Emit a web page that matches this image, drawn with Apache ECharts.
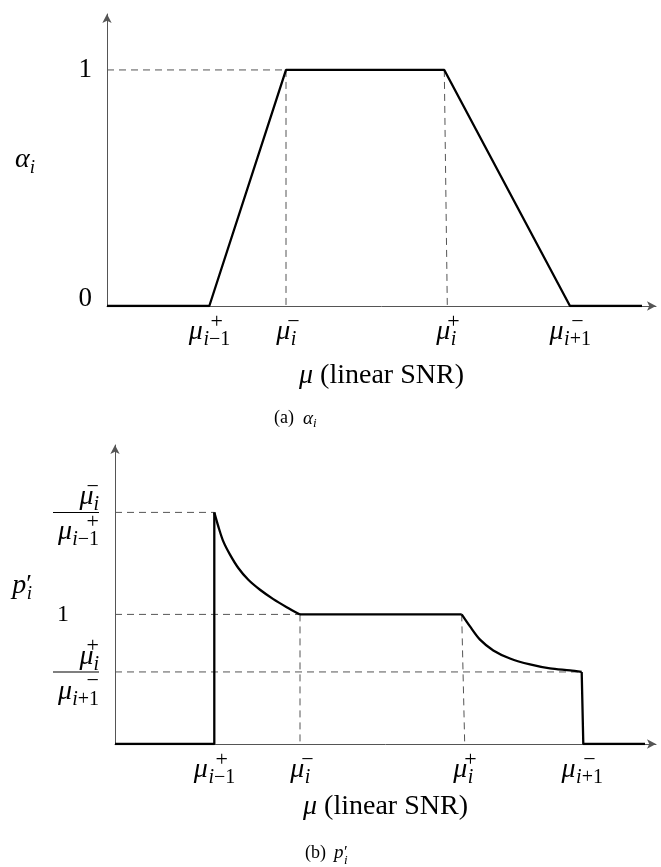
<!DOCTYPE html>
<html><head><meta charset="utf-8">
<script src="https://cdn.jsdelivr.net/npm/echarts@6/dist/echarts.min.js"></script>
<style>html,body{margin:0;padding:0;background:#fff}#c{width:661px;height:867px}</style>
</head><body><div id="c"></div>
<script>
// ---------- Panel (a): alpha_i vs mu ----------
const aMu    = [0, 1.023, 1.79, 3.373, 4.63, 5.35];
const aAlpha = [0, 0, 1, 1, 0, 0];
const aTickMu   = [1.023, 1.79, 3.39, 4.63];
const aTickSup  = ['+', '−', '+', '−'];
const aTickSubI = ['i', 'i', 'i', 'i'];
const aTickSubN = ['−1', '', '', '+1'];
const aYTicks  = [0, 1];
const aYLabels = ['0', '1'];
const aGuideH  = [[0, 1], [1.79, 1]];
const aGuideV1 = [[1.79, 1], [1.79, 0]];
const aGuideV2 = [[3.373, 1], [3.403, 0]];

// ---------- Panel (b): p'_i vs mu ----------
const bStepMu = [0, 0.993, 0.993];
const bStepP  = [0, 0, 1.787];
const bCurve1Mu = [0.993, 1.033, 1.083, 1.15, 1.233, 1.333, 1.45, 1.583, 1.717, 1.85];
const bCurve1P  = [1.787, 1.679, 1.563, 1.461, 1.358, 1.267, 1.190, 1.118, 1.056, 1.0];
const bFlatMu = [1.85, 3.467];
const bFlatP  = [1.0, 1.0];
const bCurve2Mu = [3.467, 3.55, 3.65, 3.783, 3.95, 4.15, 4.35, 4.55, 4.667];
const bCurve2P  = [1.0, 0.907, 0.805, 0.722, 0.660, 0.614, 0.583, 0.568, 0.556];
const bTailMu = [4.667, 4.683, 5.30];
const bTailP  = [0.556, 0, 0];
const bTickMu   = [0.993, 1.85, 3.48, 4.67];
const bTickSup  = ['+', '−', '+', '−'];
const bTickSubI = ['i', 'i', 'i', 'i'];
const bTickSubN = ['−1', '', '', '+1'];
const bYTicks = [0.556, 1, 1.787];
const bGuideH1 = [[0, 1.787], [0.993, 1.787]];
const bGuideH2 = [[0, 1], [1.85, 1]];
const bGuideH3 = [[0, 0.556], [4.667, 0.556]];
const bGuideV1 = [[1.85, 1], [1.85, 0]];
const bGuideV2 = [[3.467, 1], [3.497, 0]];

const F = "'Liberation Serif','DejaVu Serif',serif";
const MUW = 15;
const base = {fontFamily: F, color: '#000', fontWeight: 'normal'};
const R = {
  mw:  {width: MUW, fontSize: 8, lineHeight: 4},
  mwp: {width: MUW + 2, fontSize: 8, lineHeight: 4},
  pd:  {width: 2, fontSize: 8, lineHeight: 16},
  up:  Object.assign({}, base, {fontSize: 22, lineHeight: 4}),
  mu:  Object.assign({}, base, {fontStyle: 'italic', fontSize: 28, width: MUW, lineHeight: 16}),
  si:  Object.assign({}, base, {fontStyle: 'italic', fontSize: 20, lineHeight: 16, padding: [16, 0, 0, 0]}),
  sn:  Object.assign({}, base, {fontSize: 20, lineHeight: 16, padding: [16, 0, 0, 0]}),
  bar: {width: 46, fontSize: 1, lineHeight: 15, backgroundColor: '#000'},
  big: Object.assign({}, base, {fontSize: 27}),
  bigz:Object.assign({}, base, {fontSize: 27, padding: [0, 0, 14, 0]}),
  one: Object.assign({}, base, {fontSize: 24, padding: [0, 30, 0, 0]})
};

function muLab(sup, si, sn) {
  return '{mw|}{up|' + sup + '}\n{mu|μ}{si|' + si + '}' + (sn ? '{sn|' + sn + '}' : '');
}
function fracLab(nSup, nSi, dSup, dSi, dSn) {
  return '{mwp|}{up|' + nSup + '}\n{pd|}{mu|μ}{si|' + nSi + '}\n{bar| }\n' +
         '{mw|}{up|' + dSup + '}\n{mu|μ}{si|' + dSi + '}{sn|' + dSn + '}';
}
function idx(arr, v) {
  let b = 0;
  for (let i = 0; i < arr.length; i++) if (Math.abs(arr[i] - v) < Math.abs(arr[b] - v)) b = i;
  return b;
}
const bYLabels = [fracLab('+', 'i', '−', 'i', '+1'), '{one|1}', fracLab('−', 'i', '+', 'i', '−1')];

const axisLineStyle = {show: true, symbol: ['none', 'arrow'], symbolSize: [7, 9], lineStyle: {color: '#555', width: 1}};
const solid = {color: '#000', width: 2.3};
const dashed = {color: '#555', width: 1, type: [7, 5]};
const zip = (xs, ys) => xs.map((x, i) => [x, ys[i]]);

function line(data, gi, style, z, smooth) {
  return {type: 'line', xAxisIndex: gi, yAxisIndex: gi, data: data, symbol: 'none', lineStyle: style,
          z: z, silent: true, animation: false, smooth: smooth || false};
}
const axisName = {rich: {m: Object.assign({}, base, {fontStyle: 'italic', fontSize: 28}),
                         t: Object.assign({}, base, {fontSize: 28})}};

const chart = echarts.init(document.getElementById('c'), null, {renderer: 'canvas'});
chart.setOption({
  backgroundColor: '#fff',
  animation: false,
  title: [
    {text: '{c|(a)  }{ca|α}{cs|i}', left: 274, top: 407, padding: 0,
     textStyle: {fontWeight: 'normal', rich: {
       c: Object.assign({}, base, {fontSize: 18}),
       ca: Object.assign({}, base, {fontStyle: 'italic', fontSize: 19}),
       cs: Object.assign({}, base, {fontStyle: 'italic', fontSize: 13, padding: [10, 0, 0, 0]})}}},
    {text: '{cb|(b)  }{cp|p}{cpr|′}\n{cw|}{cs|i}', left: 305, top: 847, padding: 0,
     textStyle: {fontWeight: 'normal', rich: {
       cb: Object.assign({}, base, {fontSize: 18, width: 29, lineHeight: 12}),
       cp: Object.assign({}, base, {fontStyle: 'italic', fontSize: 19, width: 10, lineHeight: 12}),
       cpr: Object.assign({}, base, {fontSize: 17, lineHeight: 12}),
       cw: {width: 39, fontSize: 6, lineHeight: 4},
       cs: Object.assign({}, base, {fontStyle: 'italic', fontSize: 13, lineHeight: 4})}}}
  ],
  grid: [
    {left: 107, top: 14, width: 549, height: 292},
    {left: 115, top: 445, width: 541, height: 299}
  ],
  xAxis: [
    {type: 'value', gridIndex: 0, min: 0, max: 5.49,
     axisLine: axisLineStyle, axisTick: {show: false}, splitLine: {show: false},
     axisLabel: {customValues: aTickMu, margin: 14, rich: R,
       formatter: v => { const i = idx(aTickMu, v); return muLab(aTickSup[i], aTickSubI[i], aTickSubN[i]); }},
     name: '{m|μ}{t| (linear SNR)}', nameLocation: 'middle', nameGap: 56, nameTextStyle: axisName},
    {type: 'value', gridIndex: 1, min: 0, max: 5.41,
     axisLine: axisLineStyle, axisTick: {show: false}, splitLine: {show: false},
     axisLabel: {customValues: bTickMu, margin: 14, rich: R,
       formatter: v => { const i = idx(bTickMu, v); return muLab(bTickSup[i], bTickSubI[i], bTickSubN[i]); }},
     name: '{m|μ}{t| (linear SNR)}', nameLocation: 'middle', nameGap: 49, nameTextStyle: axisName}
  ],
  yAxis: [
    {type: 'value', gridIndex: 0, min: 0, max: 1.237,
     axisLine: axisLineStyle, axisTick: {show: false}, splitLine: {show: false},
     axisLabel: {customValues: aYTicks, margin: 15, rich: R,
       formatter: v => { const i = idx(aYTicks, v); return (i === 0 ? '{bigz|' : '{big|') + aYLabels[i] + '}'; }},
     name: '{a|α}{s|i}', nameLocation: 'middle', nameRotate: 0, nameGap: 72,
     nameTextStyle: {rich: {a: Object.assign({}, base, {fontStyle: 'italic', fontSize: 28}),
                            s: Object.assign({}, base, {fontStyle: 'italic', fontSize: 19, padding: [16, 0, 0, 0]})}}},
    {type: 'value', gridIndex: 1, min: 0, max: 2.307,
     axisLine: axisLineStyle, axisTick: {show: false}, splitLine: {show: false},
     axisLabel: {customValues: bYTicks, margin: 16, rich: R,
       formatter: v => bYLabels[idx(bYTicks, v)]},
     name: '{p|p}{pr|′}\n{pw|}{s|i}', nameLocation: 'middle', nameRotate: 0, nameGap: 83,
     nameTextStyle: {padding: [0, 0, 14, 0], rich: {
       p: Object.assign({}, base, {fontStyle: 'italic', fontSize: 28, width: 14, lineHeight: 12}),
       pr: Object.assign({}, base, {fontSize: 26, lineHeight: 12}),
       pw: {width: 14, fontSize: 6, lineHeight: 4},
       s: Object.assign({}, base, {fontStyle: 'italic', fontSize: 19, lineHeight: 4})}}}
  ],
  series: [
    line(aGuideH, 0, dashed, 2), line(aGuideV1, 0, dashed, 2), line(aGuideV2, 0, dashed, 2),
    line(zip(aMu, aAlpha), 0, solid, 3),
    line(bGuideH1, 1, dashed, 2), line(bGuideH2, 1, dashed, 2), line(bGuideH3, 1, dashed, 2),
    line(bGuideV1, 1, dashed, 2), line(bGuideV2, 1, dashed, 2),
    line(zip(bStepMu, bStepP), 1, solid, 3),
    line(zip(bCurve1Mu, bCurve1P), 1, solid, 3, 0.3),
    line(zip(bFlatMu, bFlatP), 1, solid, 3),
    line(zip(bCurve2Mu, bCurve2P), 1, solid, 3, 0.3),
    line(zip(bTailMu, bTailP), 1, solid, 3)
  ]
});
</script>
</body></html>
